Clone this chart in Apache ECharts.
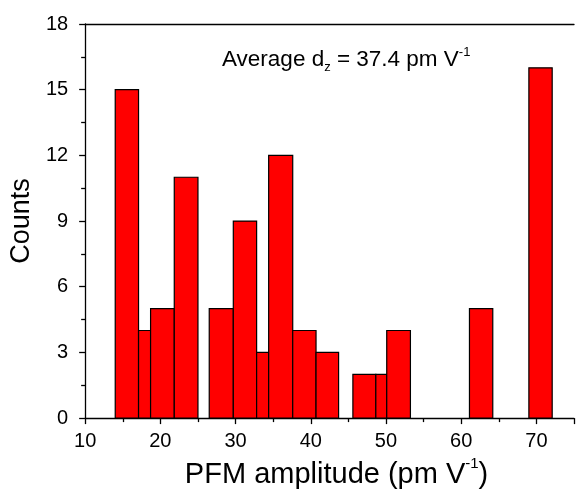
<!DOCTYPE html>
<html>
<head>
<meta charset="utf-8">
<script src="https://cdn.jsdelivr.net/npm/echarts@6/dist/echarts.min.js"></script>
<style>html,body{margin:0;padding:0;background:#fff;}#c{width:577px;height:494px;}</style>
</head>
<body>
<div id="c"></div>
<script>
// Histogram bins (PFM amplitude, pm/V) and counts
var binStart = [14.0, 17.1, 18.7, 21.85, 26.5, 29.7, 32.8, 34.4, 37.6, 40.7, 45.6, 48.65, 50.1, 61.1, 69.0];
var binEnd   = [17.1, 18.7, 21.85, 25.0, 29.7, 32.8, 34.4, 37.6, 40.7, 43.7, 48.65, 50.1, 53.25, 64.2, 72.1];
var counts   = [15, 4, 5, 11, 5, 9, 3, 12, 4, 3, 2, 2, 4, 5, 16];
var xTicks = [10, 20, 30, 40, 50, 60, 70];
var yTicks = [0, 3, 6, 9, 12, 15, 18];

var data = binStart.map(function (s, i) { return [s, binEnd[i], counts[i]]; });
var FONT = 'Liberation Sans, Arial, sans-serif';

var chart = echarts.init(document.getElementById('c'));
chart.setOption({
  animation: false,
  backgroundColor: '#ffffff',
  grid: { left: 84, right: 1, top: 24, bottom: 72 },
  xAxis: [{
    type: 'value', min: 10, max: 75, interval: 10, position: 'bottom',
    axisLine: { show: true, onZero: false, lineStyle: { color: '#000', width: 1.3 } },
    axisTick: { show: true, inside: false, length: 6, lineStyle: { color: '#000', width: 1.3 } },
    minorTick: { show: true, splitNumber: 2, length: 4, lineStyle: { color: '#000', width: 1.3 } },
    splitLine: { show: false },
    axisLabel: { margin: 13, fontSize: 20, color: '#000', fontFamily: FONT,
      formatter: function (v) { return xTicks.indexOf(v) >= 0 ? String(v) : ''; } },
    name: '{n|PFM amplitude (pm V}{s|-1}{n|)}',
    nameLocation: 'middle', nameGap: 36,
    nameTextStyle: { padding: [0, 0, 0, 14], rich: {
      n: { fontSize: 29, color: '#000', fontFamily: FONT, lineHeight: 33, verticalAlign: 'bottom' },
      s: { fontSize: 15, color: '#000', fontFamily: FONT, verticalAlign: 'top', lineHeight: 16 }
    } }
  }, {
    type: 'value', min: 10, max: 75, position: 'top',
    axisLine: { show: true, onZero: false, lineStyle: { color: '#000', width: 1.3 } },
    axisTick: { show: false }, axisLabel: { show: false }, splitLine: { show: false }
  }],
  yAxis: {
    type: 'value', min: 0, max: 18, interval: 3,
    axisLine: { show: true, lineStyle: { color: '#000', width: 1.3 } },
    axisTick: { show: true, inside: false, length: 6, lineStyle: { color: '#000', width: 1.3 } },
    minorTick: { show: true, splitNumber: 2, length: 4, lineStyle: { color: '#000', width: 1.3 } },
    splitLine: { show: false },
    axisLabel: { margin: 17, fontSize: 20, color: '#000', fontFamily: FONT,
      formatter: function (v) { return yTicks.indexOf(v) >= 0 ? String(v) : ''; } },
    name: 'Counts', nameLocation: 'middle', nameGap: 40,
    nameTextStyle: { fontSize: 27, color: '#000', fontFamily: FONT }
  },
  series: [{
    type: 'custom',
    xAxisIndex: 0,
    data: data,
    renderItem: function (params, api) {
      var p0 = api.coord([api.value(0), 0]);
      var p1 = api.coord([api.value(1), api.value(2)]);
      return {
        type: 'rect',
        shape: { x: p0[0], y: p1[1], width: p1[0] - p0[0], height: p0[1] - p1[1] },
        style: { fill: '#ff0000', stroke: '#000', lineWidth: 1.2 }
      };
    },
    encode: { x: [0, 1], y: 2 }
  }],
  graphic: [{
    type: 'text', left: 222, top: 46,
    style: {
      text: '{n|Average d}{b|z}{n| = 37.4 pm V}{s|-1}',
      rich: {
        n: { fontSize: 22.5, fill: '#000', fontFamily: FONT, lineHeight: 28, verticalAlign: 'middle' },
        b: { fontSize: 13, fill: '#000', fontFamily: FONT, verticalAlign: 'bottom', lineHeight: 13 },
        s: { fontSize: 13, fill: '#000', fontFamily: FONT, verticalAlign: 'top', lineHeight: 13 }
      }
    }
  }]
});
</script>
</body>
</html>
